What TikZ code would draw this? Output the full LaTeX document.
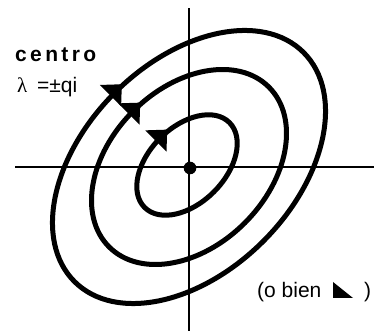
\documentclass[tikz,border=0pt]{standalone}
\usepackage{fontspec}
\setmainfont{Liberation Sans}
\newfontfamily\greekserif{Liberation Serif}
\begin{document}
\begin{tikzpicture}[x=1pt,y=1pt,
  ell/.style={line width=5pt},
  axis/.style={line width=2pt},
  head/.style={fill=black},
  lbl/.style={inner sep=0pt,anchor=base west}]
\useasboundingbox (0,0) rectangle (374,331);
\coordinate (O) at (189,164);
\coordinate (Oi) at (187,166);
% axes
\coordinate (xl) at (15,164);
\coordinate (xr) at (374,164);
\coordinate (yt) at (189,323);
\coordinate (yb) at (189,0);
\draw[axis] (xl) -- (xr);
\draw[axis] (yb) -- (yt);
% ellipses
\draw[ell, rotate around={45:(O)}] (O) ellipse [x radius=162, y radius=105];
\draw[ell, rotate around={45:(O)}] (O) ellipse [x radius=113, y radius=79];
\draw[ell, rotate around={45:(Oi)}] (Oi) ellipse [x radius=60, y radius=38];
% arrowheads
\begin{scope}[shift={(O)}, rotate=45]
  \fill[head] (11,106) -- (-5,121) -- (-5,91) -- cycle;
  \fill[head] (11,80) -- (-5,95) -- (-5,65) -- cycle;
\end{scope}
\begin{scope}[shift={(Oi)}, rotate=45]
  \fill[head] (11,39) -- (-5,54) -- (-5,24) -- cycle;
\end{scope}
% centre dot
\fill (190,163) circle [radius=6.3];
% labels
\node[lbl, font=\bfseries\fontsize{21}{21}\selectfont\addfontfeatures{LetterSpace=16}] (c) at (15,269) {centro};
\node[lbl, font=\greekserif\fontsize{21}{21}\selectfont] (lam) at (17,238) {λ};
\node[lbl, font=\fontsize{21}{21}\selectfont] (eq) at (37,238) {=±qi};
\node[lbl, font=\fontsize{21}{21}\selectfont] (ob) at (257,33) {(o bien};
\fill (333,49) -- (333,33) -- (353,33) -- cycle;
\node[lbl, font=\fontsize{21}{21}\selectfont] (cp) at (364,33) {)};
\end{tikzpicture}
\end{document}
